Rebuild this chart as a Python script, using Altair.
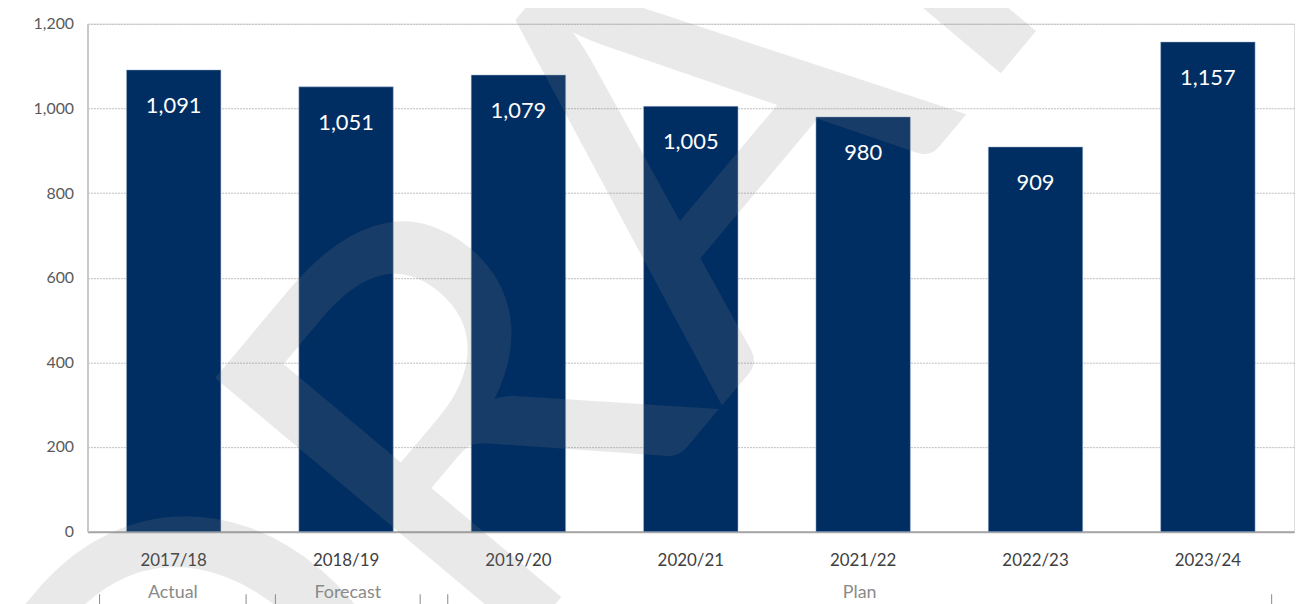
import altair as alt
import pandas as pd

years = ["2017/18", "2018/19", "2019/20", "2020/21", "2021/22", "2022/23", "2023/24"]
values = [1091, 1051, 1079, 1005, 980, 909, 1157]

groups = ["Actual", "Forecast", "Plan"]
group_start = [0.07, 1.09, 2.09]   # in category units (band index)
group_end = [0.92, 1.93, 6.87]

watermark = ["DRAFT"]

W, H = 1214, 511
FONT = "Lato"
NAVY = "#002e62"

df = pd.DataFrame({"year": years, "value": values})
gdf = pd.DataFrame({"group": groups, "start": group_start, "end": group_end})
gdf["mid"] = (gdf["start"] + gdf["end"]) / 2
tdf = pd.DataFrame({"pos": group_start + group_end})
wdf = pd.DataFrame({"t": watermark})

xenc = alt.X("year:N", sort=years, title=None,
             scale=alt.Scale(paddingInner=0.452, paddingOuter=0.226),
             axis=alt.Axis(labelAngle=0, labelFontSize=17, labelColor="#404040",
                           labelFont=FONT, labelPadding=21, ticks=False,
                           domainColor="#a6a6a6", domainWidth=2, grid=False))
yenc = alt.Y("value:Q", title=None,
             scale=alt.Scale(domain=[0, 1200]),
             axis=alt.Axis(values=[0, 200, 400, 600, 800, 1000, 1200], format=",d",
                           labelFontSize=16, labelColor="#595959", labelFont=FONT,
                           labelPadding=14, ticks=False, domainColor="#c8c8c8",
                           domainWidth=2, grid=True, gridColor="#bdbdbd",
                           gridDash=[2, 1], gridWidth=1))

bars = alt.Chart(df).mark_bar(color=NAVY, stroke="#a9bcd6", strokeWidth=0.5).encode(x=xenc, y=yenc)

labels = alt.Chart(df).mark_text(color="white", fontSize=22, font=FONT, dy=36,
                                 baseline="middle").encode(
    x=xenc, y=yenc,
    text=alt.Text("value:Q", format=",d"))

wm = alt.Chart(wdf).mark_text(fontSize=570, font=FONT, fontWeight="normal", angle=310,
                              color="#808080", opacity=0.17, align="center",
                              baseline="middle").encode(
    text="t:N", x=alt.value(588), y=alt.value(178))

main = alt.layer(bars, wm, labels)

qx = alt.Scale(domain=[0, 7], range=[0, W])
glabels = alt.Chart(gdf).mark_text(fontSize=18, font=FONT, color="#8a8a8a",
                                   baseline="middle").encode(
    x=alt.X("mid:Q", scale=qx, axis=None),
    y=alt.value(H + 62),
    text="group:N")
gticks = alt.Chart(tdf).mark_rule(color="#8a8a8a", strokeWidth=1).encode(
    x=alt.X("pos:Q", scale=qx, axis=None),
    y=alt.value(H + 63), y2=alt.value(H + 80))

chart = alt.layer(main, glabels, gticks).resolve_scale(x="independent").properties(
    width=W, height=H,
    autosize=alt.AutoSizeParams(type="none"),
    padding={"left": 80, "top": 14, "right": 10, "bottom": 80},
).configure_view(strokeOpacity=0, strokeWidth=0).configure(background="white")

chart.save("out.html", embed_options={"renderer": "svg", "actions": False})
